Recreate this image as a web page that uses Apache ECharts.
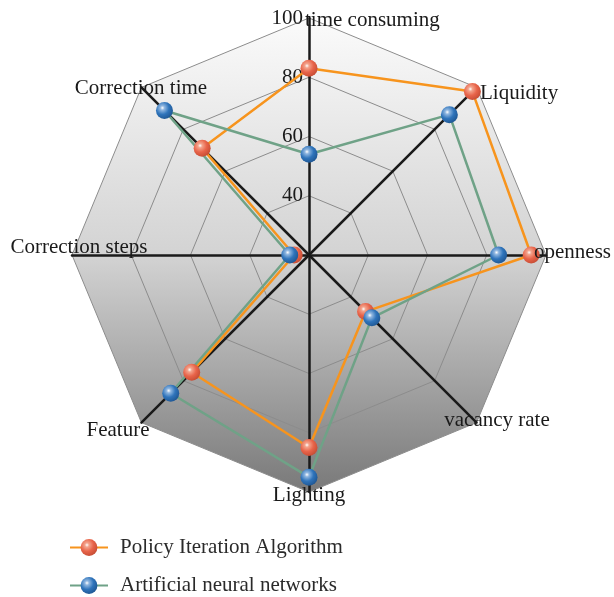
<!DOCTYPE html>
<html>
<head>
<meta charset="utf-8">
<script src="https://cdn.jsdelivr.net/npm/echarts@6/dist/echarts.min.js"></script>
<style>
html,body{margin:0;padding:0;background:#fff;}
#radar{width:614px;height:597px;}
</style>
</head>
<body>
<div id="radar"></div>
<script type="text/javascript">
// indicators, counterclockwise from the top (echarts order)
var indicators = ['time consuming', 'Correction time', 'Correction steps', 'Feature', 'Lighting', 'vacancy rate', 'openness', 'Liquidity'];
var seriesNames = ['Policy Iteration Algorithm', 'Artificial neural networks'];
var policyValues = [83, 71, 25, 76, 85, 47, 95, 98];
var annValues = [54, 89, 26.5, 86, 95, 50, 84, 87];
var scaleMin = 20, scaleMax = 100;

var serif = '"Liberation Serif", "DejaVu Serif", serif';
var lineColors = ['#f7941d', '#6fa287'];

function ball(c0, c1, c2){
    return {type:'radial', x:0.38, y:0.35, r:0.7, colorStops:[
        {offset:0, color:'#ffffff'},{offset:0.18, color:c0},{offset:0.55, color:c1},{offset:1, color:c2}]};
}
var balls = [ball('#f3a38c','#e8644a','#c44b33'), ball('#8fb6e0','#2f74bb','#1e5591')];

// label spots for the axis names
var namePos = {
    'time consuming':[305,20,'left'],
    'Liquidity':[480,93,'left'],
    'openness':[534,252,'left'],
    'vacancy rate':[497,420,'center'],
    'Lighting':[309,495,'center'],
    'Feature':[118,430,'center'],
    'Correction steps':[79,247,'center'],
    'Correction time':[141,88,'center']
};
var texts = indicators.map(function(n){
    var p = namePos[n];
    return {type:'text', x:p[0], y:p[1], z:100, style:{text:n, font:'21px ' + serif, fill:'#1a1a1a', textAlign:p[2], textVerticalAlign:'middle'}};
});

var chart = echarts.init(document.getElementById('radar'));
var option = {
    animation:false,
    legend:{
        orient:'vertical', left:69, bottom:1, padding:0, itemGap:17, itemWidth:38, itemHeight:21,
        textStyle:{fontFamily:serif, fontSize:21, color:'#2a2a2a', padding:[0,0,0,7]},
        data:seriesNames
    },
    graphic:texts,
    // hidden grid only so the legend gets line+ball icons
    grid:{show:false, left:0, top:0, width:1, height:1},
    xAxis:{show:false, type:'category'},
    yAxis:{show:false, type:'value'},
    radar:{
        center:[309,255], radius:237, startAngle:90, splitNumber:4, shape:'polygon',
        indicator:indicators.map(function(n, i){
            var ind = {name:n, min:scaleMin, max:scaleMax};
            if (i > 0) ind.axisLabel = {show:false};
            return ind;
        }),
        axisName:{show:false},
        axisLine:{lineStyle:{color:'#1a1a1a', width:2.5}},
        splitLine:{lineStyle:{color:'#8c8c8c', width:1}},
        splitArea:{show:true, areaStyle:{color:[{type:'linear', global:true, x:0, y:18, x2:0, y2:492, colorStops:[
            {offset:0, color:'#fbfbfb'},{offset:0.5, color:'#d3d3d3'},{offset:0.72, color:'#acacac'},{offset:1, color:'#797979'}]}]}},
        axisLabel:{show:true, showMinLabel:false, fontFamily:serif, fontSize:21, color:'#1a1a1a', margin:6}
    },
    series:[{
        type:'radar', symbol:'circle', symbolSize:17,
        data:[
            {name:seriesNames[0], value:policyValues,
             lineStyle:{color:lineColors[0], width:2.5},
             itemStyle:{color:balls[0]}},
            {name:seriesNames[1], value:annValues,
             lineStyle:{color:lineColors[1], width:2.5},
             itemStyle:{color:balls[1]}}
        ]
    },
    {name:seriesNames[0], type:'line', data:[], symbol:'circle', lineStyle:{color:lineColors[0], width:3}, itemStyle:{color:balls[0]}},
    {name:seriesNames[1], type:'line', data:[], symbol:'circle', lineStyle:{color:lineColors[1], width:3}, itemStyle:{color:balls[1]}}
    ]
};
chart.setOption(option);
</script>
</body>
</html>
